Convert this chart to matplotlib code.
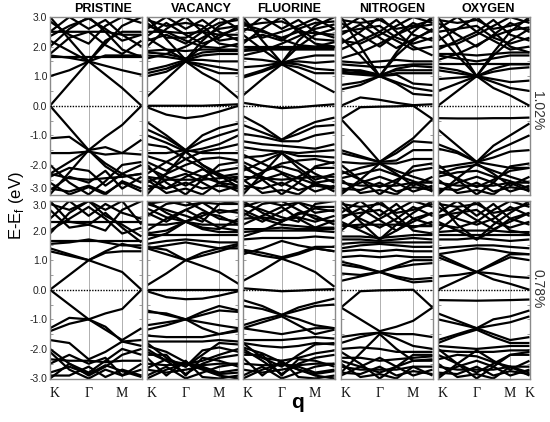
import matplotlib
matplotlib.use("Agg")
import matplotlib.pyplot as plt
from matplotlib.ticker import FixedLocator, NullFormatter, FixedFormatter

# ---------------- data ----------------
# k-path nodes: K, mid(K-Γ), Γ, mid(Γ-M), M, K
k_nodes = [0.0, 0.2113, 0.4226, 0.6056, 0.7886, 1.0]
panel_titles = ["PRISTINE", "VACANCY", "FLUORINE", "NITROGEN", "OXYGEN"]
strain_labels = ["1.02%", "0.78%"]
ytick_vals = [-3.0, -2.0, -1.0, 0.0, 1.0, 2.0, 3.0]
ytick_labels = ["-3.0", "-2.0", "-1.0", "0.0", "1.0", "2.0", "3.0"]
yminor_vals = [-2.5, -1.5, -0.5, 0.5, 1.5, 2.5]
xtick_labels = ["K", "Γ", "M"]
xtick_labels_last = ["K", "Γ", "M", "K"]

pristine_102 = [
    [0.00, 0.75, 1.50, 1.05, 0.60, 0.00],
    [0.00, -0.75, -1.50, -1.05, -0.65, 0.00],
    [1.00, 1.20, 1.50, 1.35, 1.20, 1.05],
    [-1.10, -1.05, -1.50, -1.40, -1.60, -1.15],
    [1.65, 1.65, 1.65, 1.65, 1.65, 1.65],
    [1.70, 1.62, 1.50, 1.70, 1.70, 1.70],
    [-1.60, -1.60, -1.55, -1.65, -1.60, -1.65],
    [3.00, 2.25, 1.50, 2.10, 2.70, 3.00],
    [-3.00, -2.25, -1.50, -2.05, -2.40, -2.30],
    [2.20, 1.85, 1.50, 2.20, 2.50, 2.50],
    [-2.30, -1.90, -1.50, -1.95, -2.30, -2.60],
    [2.50, 2.50, 2.50, 2.50, 2.40, 2.40],
    [-2.30, -2.45, -2.50, -2.45, -2.40, -2.30],
    [2.00, 2.60, 3.00, 2.50, 1.90, 1.65],
    [-2.00, -2.60, -3.00, -2.55, -2.00, -1.90],
    [2.50, 3.00, 2.60, 2.90, 2.40, 2.00],
    [-2.80, -2.90, -2.70, -2.95, -2.60, -2.90],
    [1.75, 2.30, 2.50, 2.05, 1.75, 2.20],
    [-2.85, -2.40, -2.60, -2.20, -2.80, -2.40],
    [2.85, 2.40, 2.10, 2.70, 3.00, 2.80],
    [-2.60, -3.00, -2.75, -3.00, -2.55, -2.80],
    [2.35, 2.70, 2.95, 2.60, 2.20, 2.40],
    [-2.40, -2.10, -2.20, -2.70, -2.30, -2.00],
]

pristine_078 = [
    [0.00, 0.50, 1.00, 0.80, 0.60, 0.00],
    [0.00, -0.50, -1.00, -0.80, -0.65, 0.00],
    [1.30, 1.15, 1.00, 1.30, 1.55, 1.40],
    [1.40, 1.20, 1.00, 1.25, 1.30, 1.30],
    [-1.30, -0.95, -1.00, -1.35, -1.70, -1.30],
    [-1.40, -1.15, -1.00, -1.25, -1.75, -1.90],
    [1.65, 1.65, 1.65, 1.65, 1.65, 1.65],
    [1.55, 1.60, 1.70, 1.60, 1.50, 1.50],
    [-1.70, -1.80, -2.35, -2.10, -1.75, -1.70],
    [2.30, 2.30, 2.30, 2.30, 2.30, 2.30],
    [-2.35, -2.40, -2.40, -2.45, -2.40, -2.40],
    [3.00, 2.30, 2.20, 2.60, 2.10, 1.60],
    [-3.00, -2.50, -2.80, -2.40, -2.00, -2.20],
    [2.00, 2.40, 2.80, 2.40, 1.90, 2.10],
    [-2.00, -2.50, -2.90, -2.60, -2.20, -2.00],
    [1.90, 2.60, 3.00, 2.50, 2.20, 1.80],
    [-2.10, -2.70, -3.00, -2.70, -2.90, -2.70],
    [2.40, 3.00, 2.50, 2.90, 2.60, 2.40],
    [-2.90, -2.90, -2.60, -2.95, -2.70, -2.90],
    [2.70, 2.10, 2.20, 2.00, 2.70, 3.00],
    [-2.50, -2.20, -2.50, -2.30, -2.90, -2.50],
    [2.90, 2.70, 3.00, 2.70, 3.00, 2.20],
    [-2.80, -2.60, -2.85, -2.55, -2.75, -2.95],
]

vacancy_102 = [
    [0.00, 0.00, 0.00, 0.00, 0.02, 0.05],
    [-0.05, -0.30, -0.42, -0.35, -0.20, 0.00],
    [0.30, 0.90, 1.50, 1.10, 0.80, 0.25],
    [1.00, 1.15, 1.50, 1.30, 1.10, 1.10],
    [1.10, 1.25, 1.50, 1.40, 1.30, 1.20],
    [1.20, 1.35, 1.55, 1.55, 1.50, 1.50],
    [1.70, 1.65, 1.55, 1.70, 1.75, 1.75],
    [1.80, 1.75, 1.60, 1.80, 1.85, 1.85],
    [1.85, 1.90, 1.85, 1.90, 1.90, 1.90],
    [3.00, 2.25, 1.55, 2.20, 2.70, 3.00],
    [2.30, 1.90, 1.55, 2.00, 2.40, 2.60],
    [2.50, 2.50, 2.45, 2.50, 2.40, 2.40],
    [2.00, 2.60, 3.00, 2.50, 2.10, 2.00],
    [2.60, 3.00, 2.60, 2.90, 2.50, 2.20],
    [2.20, 2.40, 2.10, 2.50, 2.80, 2.90],
    [2.80, 2.30, 2.30, 2.60, 3.00, 2.60],
    [2.90, 2.70, 2.80, 2.70, 2.20, 2.30],
    [1.60, 1.75, 2.00, 2.30, 2.60, 2.70],
    [2.70, 2.50, 2.20, 2.00, 1.95, 2.10],
    [2.35, 2.80, 2.40, 2.10, 2.30, 2.70],
    [-0.55, -1.00, -1.50, -1.00, -0.75, -0.60],
    [-0.80, -1.10, -1.50, -1.20, -1.00, -0.80],
    [-1.00, -1.25, -1.55, -1.45, -1.30, -1.00],
    [-1.30, -1.40, -1.80, -1.55, -1.45, -1.30],
    [-1.60, -1.60, -1.50, -1.60, -1.60, -1.60],
    [-3.00, -2.30, -1.55, -2.00, -2.40, -2.30],
    [-2.30, -1.90, -1.55, -2.00, -2.30, -2.60],
    [-2.10, -2.40, -2.70, -2.40, -2.20, -2.10],
    [-2.00, -2.60, -3.00, -2.50, -2.00, -1.90],
    [-2.40, -2.50, -2.50, -2.50, -2.45, -2.40],
    [-2.70, -2.80, -2.60, -2.80, -2.70, -2.80],
    [-2.85, -2.50, -2.30, -2.60, -2.90, -2.70],
    [-2.50, -2.95, -2.80, -3.00, -2.60, -2.90],
    [-1.90, -2.20, -1.80, -2.10, -2.60, -2.45],
    [-1.70, -1.90, -2.20, -2.40, -2.60, -2.70],
    [-2.60, -2.30, -2.00, -1.80, -1.75, -1.85],
    [-2.40, -2.80, -2.40, -2.15, -2.35, -2.75],
]

vacancy_078 = [
    [0.00, 0.00, 0.00, 0.00, 0.00, 0.00],
    [-0.05, -0.25, -0.32, -0.30, -0.20, -0.05],
    [0.15, 0.55, 1.00, 0.80, 0.60, 0.20],
    [1.40, 1.20, 1.00, 1.15, 1.30, 1.50],
    [1.45, 1.35, 1.00, 1.25, 1.40, 1.55],
    [1.40, 1.50, 1.60, 1.50, 1.40, 1.40],
    [1.55, 1.65, 1.70, 1.65, 1.60, 1.60],
    [1.85, 1.85, 1.85, 1.85, 1.85, 1.85],
    [1.90, 2.00, 2.30, 2.05, 1.95, 1.95],
    [2.20, 2.20, 2.30, 2.20, 2.20, 2.20],
    [3.00, 2.60, 2.30, 2.60, 2.50, 2.20],
    [2.00, 2.40, 2.70, 2.40, 2.10, 2.00],
    [2.50, 2.90, 3.00, 2.70, 2.40, 2.30],
    [2.60, 2.30, 2.70, 2.95, 2.60, 2.70],
    [2.90, 2.70, 2.50, 2.30, 2.90, 3.00],
    [2.90, 3.00, 2.85, 2.95, 2.90, 2.90],
    [1.70, 1.90, 2.30, 2.50, 2.70, 2.60],
    [2.75, 2.45, 2.30, 2.10, 2.05, 2.40],
    [-0.70, -0.85, -1.00, -0.75, -0.55, -0.70],
    [-0.75, -0.80, -1.00, -0.85, -0.70, -0.75],
    [-1.20, -1.10, -1.00, -1.10, -1.20, -1.30],
    [-1.35, -1.20, -1.00, -1.30, -1.50, -1.35],
    [-1.55, -1.60, -1.60, -1.60, -1.50, -1.40],
    [-1.75, -1.75, -1.75, -1.75, -1.70, -1.75],
    [-1.80, -2.30, -2.60, -2.20, -1.80, -1.85],
    [-3.00, -2.70, -2.50, -2.70, -2.90, -3.00],
    [-2.10, -2.40, -2.50, -2.40, -2.20, -2.00],
    [-2.00, -2.40, -2.85, -2.50, -2.30, -2.20],
    [-2.50, -2.55, -2.50, -2.55, -2.50, -2.50],
    [-2.70, -2.80, -2.70, -2.60, -2.80, -2.70],
    [-2.90, -2.60, -3.00, -2.80, -2.60, -2.50],
    [-2.30, -2.90, -2.40, -2.95, -3.00, -2.90],
    [-2.20, -2.20, -2.90, -2.30, -2.40, -2.60],
    [-1.90, -2.10, -2.45, -2.65, -2.85, -2.80],
    [-2.65, -2.35, -2.60, -2.05, -1.95, -2.10],
]

fluorine_102 = [
    [0.10, 0.00, -0.08, -0.05, 0.00, 0.05],
    [0.35, 0.90, 1.40, 1.10, 0.80, 0.45],
    [0.95, 1.15, 1.40, 1.30, 1.10, 1.10],
    [1.00, 1.20, 1.45, 1.40, 1.25, 1.20],
    [1.30, 1.35, 1.45, 1.50, 1.45, 1.50],
    [1.60, 1.55, 1.45, 1.60, 1.70, 1.70],
    [1.85, 1.90, 1.90, 1.90, 1.90, 1.90],
    [1.90, 1.95, 1.95, 1.95, 1.95, 1.95],
    [2.00, 2.00, 2.00, 2.00, 2.00, 2.00],
    [3.00, 2.20, 1.45, 2.20, 2.70, 3.00],
    [2.40, 1.90, 1.45, 2.00, 2.40, 2.60],
    [2.60, 2.50, 2.30, 2.50, 2.45, 2.40],
    [2.10, 2.60, 3.00, 2.50, 2.10, 2.00],
    [2.50, 3.00, 2.60, 2.90, 2.50, 2.30],
    [2.20, 2.40, 2.20, 2.60, 2.80, 2.85],
    [2.85, 2.30, 2.50, 2.70, 2.95, 2.60],
    [2.70, 2.80, 2.85, 2.60, 2.25, 2.20],
    [1.70, 1.85, 2.10, 2.35, 2.60, 2.75],
    [2.75, 2.55, 2.25, 2.05, 2.00, 2.15],
    [-0.35, -0.70, -1.15, -0.80, -0.55, -0.40],
    [-0.65, -0.90, -1.15, -0.95, -0.70, -0.65],
    [-0.95, -1.05, -1.20, -1.20, -1.00, -0.90],
    [-1.20, -1.30, -1.35, -1.40, -1.45, -1.30],
    [-1.40, -1.50, -1.55, -1.60, -1.55, -1.50],
    [-1.75, -1.70, -1.55, -1.70, -1.70, -1.75],
    [-3.00, -2.30, -1.60, -2.10, -2.50, -2.30],
    [-2.20, -1.90, -1.60, -1.95, -2.30, -2.60],
    [-2.10, -2.40, -2.70, -2.40, -2.10, -2.10],
    [-2.00, -2.50, -3.00, -2.60, -2.05, -1.90],
    [-2.40, -2.45, -2.50, -2.45, -2.40, -2.40],
    [-2.70, -2.80, -2.60, -2.85, -2.70, -2.80],
    [-2.85, -2.50, -2.30, -2.60, -2.90, -2.70],
    [-2.50, -2.95, -2.85, -3.00, -2.60, -2.90],
    [-1.90, -2.20, -2.05, -2.20, -2.60, -2.50],
    [-1.65, -1.95, -2.25, -2.45, -2.65, -2.75],
    [-2.55, -2.25, -1.95, -1.85, -1.80, -1.95],
]

fluorine_078 = [
    [0.05, 0.00, -0.05, -0.03, 0.00, 0.02],
    [0.30, 0.65, 1.05, 0.85, 0.60, 0.10],
    [1.30, 1.15, 1.05, 1.20, 1.40, 1.30],
    [1.35, 1.25, 1.10, 1.25, 1.45, 1.45],
    [1.20, 1.40, 1.65, 1.50, 1.40, 1.30],
    [1.70, 1.75, 1.75, 1.75, 1.80, 1.75],
    [1.95, 2.00, 2.00, 2.00, 2.00, 1.95],
    [2.05, 2.05, 2.10, 2.05, 2.05, 2.05],
    [3.00, 2.60, 2.30, 2.60, 2.50, 2.20],
    [2.20, 2.50, 2.80, 2.40, 2.10, 2.10],
    [2.50, 2.90, 3.00, 2.70, 2.40, 2.30],
    [2.60, 2.30, 2.65, 2.95, 2.60, 2.70],
    [2.90, 2.70, 2.45, 2.30, 2.90, 3.00],
    [2.40, 2.45, 2.35, 2.45, 2.30, 2.50],
    [2.80, 3.00, 2.85, 2.95, 2.80, 2.80],
    [1.80, 2.00, 2.30, 2.55, 2.75, 2.65],
    [2.70, 2.40, 2.20, 2.15, 2.10, 2.35],
    [-0.35, -0.55, -0.85, -0.60, -0.45, -0.30],
    [-0.55, -0.65, -0.85, -0.70, -0.55, -0.50],
    [-1.20, -1.00, -0.85, -1.00, -1.20, -1.30],
    [-1.30, -1.10, -0.90, -1.20, -1.50, -1.35],
    [-1.30, -1.40, -1.50, -1.40, -1.30, -1.30],
    [-1.70, -1.70, -1.70, -1.65, -1.60, -1.65],
    [-1.80, -1.90, -1.95, -1.90, -1.80, -1.85],
    [-1.80, -2.30, -2.60, -2.20, -1.85, -1.80],
    [-3.00, -2.70, -2.50, -2.70, -2.90, -3.00],
    [-2.10, -2.30, -2.40, -2.30, -2.15, -2.05],
    [-2.00, -2.40, -2.85, -2.50, -2.30, -2.20],
    [-2.50, -2.55, -2.55, -2.55, -2.50, -2.50],
    [-2.70, -2.80, -2.70, -2.60, -2.80, -2.70],
    [-2.90, -2.60, -3.00, -2.80, -2.60, -2.50],
    [-2.30, -2.90, -2.40, -2.95, -3.00, -2.90],
    [-2.20, -2.20, -2.90, -2.35, -2.40, -2.60],
    [-1.95, -2.15, -2.45, -2.70, -2.85, -2.75],
]

nitrogen_102 = [
    [-0.45, -0.05, -0.03, -0.02, 0.00, -0.45],
    [-0.45, -1.15, -1.90, -1.50, -1.10, -0.45],
    [0.00, 0.28, 0.20, 0.10, 0.02, 0.05],
    [0.55, 0.70, 1.00, 0.75, 0.40, 0.35],
    [0.70, 0.80, 1.00, 0.80, 0.60, 0.50],
    [1.10, 1.05, 1.00, 1.05, 0.75, 0.70],
    [1.15, 1.10, 1.00, 1.10, 1.10, 1.10],
    [1.20, 1.20, 1.05, 1.20, 1.20, 1.20],
    [1.25, 1.15, 1.00, 1.25, 1.35, 1.30],
    [1.40, 1.35, 1.30, 1.35, 1.40, 1.40],
    [1.50, 1.45, 1.50, 1.55, 1.50, 1.50],
    [3.00, 2.00, 1.00, 1.80, 2.50, 3.00],
    [2.30, 1.70, 1.00, 1.70, 2.20, 2.60],
    [2.10, 2.50, 3.00, 2.50, 2.00, 1.70],
    [2.60, 3.00, 2.50, 2.90, 2.40, 2.20],
    [2.20, 2.10, 2.40, 2.70, 3.00, 2.80],
    [2.80, 2.40, 2.00, 2.40, 2.80, 2.50],
    [2.50, 2.60, 2.70, 2.30, 2.10, 2.30],
    [1.90, 2.20, 2.50, 2.20, 1.90, 2.00],
    [2.90, 2.80, 2.90, 2.60, 2.70, 2.90],
    [1.60, 1.80, 2.10, 2.40, 2.65, 2.75],
    [2.40, 2.75, 2.30, 1.95, 2.25, 2.55],
    [-1.50, -1.70, -1.90, -1.60, -1.20, -1.25],
    [-1.60, -1.75, -1.90, -1.85, -1.50, -1.50],
    [-1.90, -1.95, -1.95, -1.95, -1.80, -1.80],
    [-3.00, -2.50, -1.95, -2.30, -2.70, -2.40],
    [-2.30, -2.10, -1.95, -2.20, -2.40, -2.60],
    [-2.20, -2.50, -2.75, -2.50, -2.20, -2.10],
    [-2.00, -2.50, -3.00, -2.60, -2.05, -1.95],
    [-2.60, -2.70, -2.70, -2.70, -2.60, -2.60],
    [-2.80, -2.85, -2.60, -2.90, -2.75, -2.85],
    [-2.90, -2.60, -2.40, -2.60, -2.90, -2.70],
    [-2.50, -2.95, -2.85, -3.00, -2.60, -2.90],
    [-2.45, -2.30, -2.15, -2.35, -2.55, -2.80],
]

nitrogen_078 = [
    [-0.60, -0.05, -0.02, -0.01, 0.00, -0.60],
    [-0.60, -1.00, -1.40, -1.25, -1.05, -0.60],
    [0.55, 0.50, 0.60, 0.40, 0.25, 0.30],
    [0.30, 0.45, 0.60, 0.45, 0.35, 0.40],
    [0.85, 0.75, 0.60, 0.75, 0.85, 0.90],
    [0.95, 0.80, 0.60, 0.80, 1.00, 1.00],
    [1.10, 1.15, 1.10, 1.15, 1.10, 1.10],
    [1.30, 1.35, 1.30, 1.35, 1.30, 1.30],
    [1.40, 1.50, 1.55, 1.50, 1.45, 1.45],
    [1.55, 1.60, 1.60, 1.60, 1.60, 1.60],
    [1.70, 1.70, 1.65, 1.70, 1.75, 1.70],
    [1.80, 1.80, 1.75, 1.80, 1.85, 1.85],
    [3.00, 2.30, 1.70, 2.20, 2.60, 3.00],
    [2.30, 2.00, 1.70, 2.00, 2.40, 2.60],
    [2.00, 2.50, 3.00, 2.50, 2.00, 1.90],
    [2.60, 3.00, 2.50, 2.90, 2.40, 2.20],
    [2.20, 2.10, 2.40, 2.70, 3.00, 2.80],
    [2.80, 2.40, 2.10, 2.40, 2.80, 2.50],
    [2.50, 2.60, 2.70, 2.30, 2.10, 2.30],
    [2.90, 2.80, 2.90, 2.60, 2.70, 2.90],
    [2.15, 2.20, 2.20, 2.20, 2.15, 2.15],
    [2.40, 2.75, 2.35, 2.00, 2.30, 2.60],
    [-1.60, -1.50, -1.45, -1.50, -1.50, -1.60],
    [-1.80, -1.60, -1.45, -1.65, -1.90, -2.00],
    [-2.80, -2.15, -1.50, -2.00, -2.40, -2.40],
    [-2.00, -1.95, -2.00, -2.10, -2.10, -2.10],
    [-2.30, -2.30, -2.40, -2.35, -2.30, -2.25],
    [-2.40, -2.60, -2.80, -2.60, -2.40, -2.35],
    [-2.10, -2.50, -3.00, -2.60, -2.20, -2.20],
    [-2.60, -2.70, -2.70, -2.70, -2.60, -2.60],
    [-2.80, -2.85, -2.60, -2.90, -2.75, -2.85],
    [-2.90, -2.60, -2.30, -2.60, -2.90, -2.70],
    [-2.50, -2.95, -2.85, -3.00, -2.60, -2.90],
]

oxygen_102 = [
    [-0.42, -0.43, -0.43, -0.42, -0.42, -0.40],
    [0.00, 0.50, 1.00, 0.60, 0.35, 0.00],
    [0.50, 0.75, 1.00, 0.80, 0.60, 0.50],
    [0.90, 0.95, 1.00, 0.90, 0.80, 0.85],
    [1.20, 1.10, 1.00, 1.15, 1.25, 1.30],
    [1.30, 1.20, 1.00, 1.25, 1.40, 1.40],
    [1.40, 1.40, 1.40, 1.40, 1.40, 1.40],
    [1.70, 1.60, 1.50, 1.60, 1.70, 1.70],
    [1.75, 1.75, 1.70, 1.75, 1.80, 1.80],
    [3.00, 2.00, 1.00, 1.80, 2.50, 3.00],
    [2.40, 1.70, 1.00, 1.70, 2.20, 2.60],
    [2.20, 2.60, 3.00, 2.50, 2.00, 1.80],
    [2.60, 3.00, 2.50, 2.90, 2.40, 2.20],
    [2.00, 2.10, 2.40, 2.70, 3.00, 2.80],
    [2.80, 2.40, 2.00, 2.40, 2.80, 2.50],
    [2.50, 2.60, 2.70, 2.30, 2.10, 2.30],
    [1.90, 2.20, 2.50, 2.20, 1.90, 2.00],
    [2.90, 2.80, 2.90, 2.60, 2.70, 2.90],
    [1.55, 1.75, 2.05, 2.35, 2.55, 2.65],
    [-0.80, -1.35, -1.90, -1.35, -1.00, -0.60],
    [-1.30, -1.55, -1.90, -1.55, -1.30, -1.00],
    [-1.45, -1.60, -1.90, -1.75, -1.55, -1.50],
    [-2.10, -2.00, -1.90, -2.00, -2.10, -2.10],
    [-3.00, -2.45, -1.95, -2.30, -2.70, -2.40],
    [-2.30, -2.10, -2.00, -2.20, -2.40, -2.60],
    [-2.20, -2.45, -2.75, -2.50, -2.20, -2.10],
    [-2.00, -2.50, -3.00, -2.60, -2.05, -1.95],
    [-2.60, -2.70, -2.70, -2.70, -2.60, -2.60],
    [-2.80, -2.85, -2.60, -2.90, -2.75, -2.85],
    [-2.90, -2.60, -2.40, -2.60, -2.90, -2.70],
    [-2.50, -2.95, -2.85, -3.00, -2.60, -2.90],
    [-2.40, -2.25, -2.20, -2.40, -2.55, -2.80],
]

oxygen_078 = [
    [-0.35, -0.36, -0.37, -0.36, -0.35, -0.33],
    [0.00, 0.30, 0.60, 0.35, 0.20, 0.00],
    [0.45, 0.50, 0.60, 0.55, 0.45, 0.40],
    [1.10, 0.85, 0.60, 0.85, 1.10, 1.00],
    [1.20, 0.90, 0.60, 0.90, 1.20, 1.20],
    [1.20, 1.30, 1.40, 1.35, 1.25, 1.20],
    [1.40, 1.45, 1.50, 1.50, 1.45, 1.40],
    [1.70, 1.70, 1.75, 1.70, 1.65, 1.70],
    [1.85, 1.85, 1.85, 1.85, 1.85, 1.85],
    [1.95, 2.00, 2.00, 2.00, 1.95, 1.95],
    [3.00, 2.20, 1.70, 2.20, 2.60, 3.00],
    [2.30, 2.00, 1.70, 2.00, 2.40, 2.60],
    [2.00, 2.50, 3.00, 2.50, 2.00, 1.90],
    [2.60, 3.00, 2.50, 2.90, 2.40, 2.20],
    [2.20, 2.10, 2.30, 2.70, 3.00, 2.80],
    [2.80, 2.40, 2.20, 2.40, 2.80, 2.50],
    [2.50, 2.60, 2.70, 2.30, 2.10, 2.30],
    [2.90, 2.80, 2.90, 2.60, 2.70, 2.90],
    [2.40, 2.75, 2.35, 2.05, 2.30, 2.60],
    [-0.80, -1.05, -1.30, -1.00, -0.90, -0.70],
    [-1.00, -1.15, -1.30, -1.20, -1.10, -0.90],
    [-1.70, -1.50, -1.30, -1.50, -1.70, -1.60],
    [-1.80, -1.55, -1.35, -1.60, -1.80, -1.80],
    [-1.90, -1.95, -2.00, -1.95, -1.90, -1.90],
    [-2.05, -2.10, -2.10, -2.10, -2.05, -2.05],
    [-3.00, -2.50, -2.05, -2.40, -2.70, -2.40],
    [-2.20, -2.50, -2.80, -2.50, -2.20, -2.20],
    [-2.00, -2.50, -3.00, -2.60, -2.20, -2.10],
    [-2.60, -2.70, -2.70, -2.70, -2.60, -2.60],
    [-2.80, -2.85, -2.60, -2.90, -2.75, -2.85],
    [-2.90, -2.60, -2.40, -2.60, -2.90, -2.70],
    [-2.50, -2.95, -2.85, -3.00, -2.60, -2.90],
    [-2.35, -2.20, -2.25, -2.45, -2.60, -2.80],
]

rows = [
    [pristine_102, vacancy_102, fluorine_102, nitrogen_102, oxygen_102],
    [pristine_078, vacancy_078, fluorine_078, nitrogen_078, oxygen_078],
]

# ---------------- layout ----------------
W, H = 550, 422
fig = plt.figure(figsize=(W / 100, H / 100), dpi=100)
plt.rcParams['font.family'] = ['Liberation Sans', 'DejaVu Sans']

panel_left_px = [50, 147, 243, 341, 438]
panel_w_px = 91.5
row_top_px = [17, 201]
row_h_px = 177.5
title_x_px = [103, 201, 289, 392, 488]

K0, G, M, K1 = k_nodes[0], k_nodes[2], k_nodes[4], k_nodes[5]
frame_col = '#8a8a8a'

for r in range(2):
    for c in range(5):
        left = panel_left_px[c] / W
        bottom = 1 - (row_top_px[r] + row_h_px) / H
        ax = fig.add_axes([left, bottom, panel_w_px / W, row_h_px / H])
        ax.axvline(G, color='#b0b0b0', lw=0.7, zorder=1)
        ax.axvline(M, color='#b0b0b0', lw=0.7, zorder=1)
        for band in rows[r][c]:
            ax.plot(k_nodes, band, color='black', lw=1.6,
                    solid_joinstyle='round', solid_capstyle='butt', zorder=2)
        ax.axhline(0.0, color='black', lw=1.0, ls=(0, (1, 1)), zorder=3)
        ax.set_xlim(K0, K1)
        ax.set_ylim(-3, 3)
        for sp in ax.spines.values():
            sp.set_color(frame_col)
            sp.set_linewidth(1.0)
        ax.yaxis.set_major_locator(FixedLocator(ytick_vals))
        ax.yaxis.set_minor_locator(FixedLocator(yminor_vals))
        ax.tick_params(axis='y', which='both', direction='in', left=True,
                       right=True, length=2.5, width=0.6, color=frame_col,
                       labelsize=7.5, labelcolor='#222222', pad=2)
        if c == 0:
            ax.yaxis.set_major_formatter(FixedFormatter(ytick_labels))
            labs = ax.get_yticklabels()
            if r == 0:
                labs[0].set_va('bottom')
            else:
                labs[-1].set_va('top')
        else:
            ax.yaxis.set_major_formatter(NullFormatter())
        ax.yaxis.set_minor_formatter(NullFormatter())
        if r == 1:
            if c == 4:
                ax.set_xticks([K0, G, M, K1])
                ax.set_xticklabels(xtick_labels_last)
            else:
                ax.set_xticks([K0, G, M])
                ax.set_xticklabels(xtick_labels)
            ax.tick_params(axis='x', length=0, pad=6, labelsize=10,
                           labelcolor='#111111')
            xl = ax.get_xticklabels()
            for lab in xl:
                lab.set_family(['Liberation Serif', 'DejaVu Serif'])
            xl[0].set_ha('left')
        else:
            ax.set_xticks([])
        if r == 0:
            fig.text(title_x_px[c] / W, 1 - 8.5 / H, panel_titles[c],
                     ha='center', va='center', fontsize=9, fontweight='bold')

# strain labels at right
fig.text(537 / W, 1 - 111 / H, strain_labels[0], rotation=-90,
         ha='center', va='center', fontsize=10, color='#333333')
fig.text(537 / W, 1 - 289 / H, strain_labels[1], rotation=-90,
         ha='center', va='center', fontsize=10, color='#333333')

# axis labels
fig.text(16 / W, 1 - 206 / H, 'E-E$_\\mathregular{f}$ (eV)', rotation=90,
         ha='center', va='center', fontsize=12)
fig.text(297 / W, 1 - 402 / H, 'q', ha='center', va='center',
         fontsize=15, fontweight='bold')

fig.savefig('out.png', dpi=100)
